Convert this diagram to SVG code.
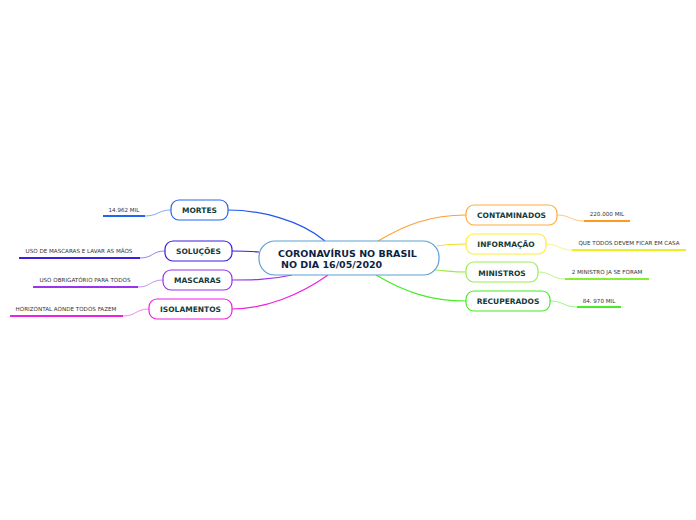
<svg xmlns="http://www.w3.org/2000/svg" width="696" height="520" viewBox="0 0 696 520">
<style>
.node{fill:#fff;stroke-width:1.2}
.nt{font-family:"DejaVu Sans",Verdana,sans-serif;font-weight:bold;font-size:7.5px;fill:#123a3a;text-anchor:middle}
.ct{font-family:"DejaVu Sans",Verdana,sans-serif;font-weight:bold;font-size:9.5px;fill:#0e1f44}
.lt{font-family:"DejaVu Sans",Verdana,sans-serif;font-size:5.6px;fill:#333;text-anchor:middle}
.c{fill:none;stroke-width:1.2}
.u{fill:none;stroke-width:1.8}
.f{fill:none;stroke-width:1;opacity:0.55}
</style>
<rect width="696" height="520" fill="#fff"/>
<g id="connectors">
<path class="c" stroke="#2255ee" d="M325,241 C300,220 260,210 228,210"/>
<path class="c" stroke="#3a1fe0" d="M259,252 C248,251 240,251 232,251"/>
<path class="c" stroke="#9933ee" d="M292,275 C270,280 250,280 232,280"/>
<path class="c" stroke="#ee22dd" d="M328,275 C300,295 265,309 232,309"/>
<path class="c" stroke="#ffa033" d="M378,241 C405,225 430,215 466,215"/>
<path class="c" stroke="#eedd22" d="M437,246 C448,244 455,244 466,244"/>
<path class="c" stroke="#99ee44" d="M435,270 C448,271 455,272 466,272"/>
<path class="c" stroke="#44ee22" d="M376,275 C405,292 430,301 466,301"/>
<path class="u" stroke="#2266ee" d="M103,216 H145"/>
<path class="f" stroke="#2266ee" d="M145,216 C158,216 158,210 171,210"/>
<path class="u" stroke="#3a1fe0" d="M19,258 H140"/>
<path class="f" stroke="#3a1fe0" d="M140,258 C153,258 152,251 165,251"/>
<path class="u" stroke="#9933ee" d="M33,287 H138"/>
<path class="f" stroke="#9933ee" d="M138,287 C151,287 150,280 163,280"/>
<path class="u" stroke="#ee22dd" d="M10,316 H123"/>
<path class="f" stroke="#ee22dd" d="M123,316 C136,316 136,309 149,309"/>
<path class="u" stroke="#ff9922" d="M584,221 H630"/>
<path class="f" stroke="#ff9922" d="M557,215 C570,215 571,221 584,221"/>
<path class="u" stroke="#eeee22" d="M572,250 H686"/>
<path class="f" stroke="#eeee22" d="M546,244 C559,244 559,250 572,250"/>
<path class="u" stroke="#88ee33" d="M565,279 H649"/>
<path class="f" stroke="#88ee33" d="M538,272 C551,272 552,279 565,279"/>
<path class="u" stroke="#44ee22" d="M577,307 H621"/>
<path class="f" stroke="#44ee22" d="M550,301 C563,301 564,307 577,307"/>
</g>
<g id="central">
<rect class="node" x="259" y="241" width="180" height="34" rx="16" stroke="#5a9fd6"/>
<text class="ct" x="278" y="257">CORONAVÍRUS NO BRASIL</text>
<text class="ct" x="281" y="268"> NO DIA 16/05/2020</text>
</g>
<g id="mortes">
<rect class="node" x="171" y="200" width="57" height="20" rx="8" stroke="#2266ee"/>
<text class="nt" x="199.5" y="213">MORTES</text>
</g>
<g id="mortes-leaf"><text class="lt" x="124" y="212">14.962 MIL</text></g>
<g id="solucoes">
<rect class="node" x="165" y="241" width="67" height="20" rx="8" stroke="#3a1fe0"/>
<text class="nt" x="198.5" y="254">SOLUÇÕES</text>
</g>
<g id="solucoes-leaf"><text class="lt" x="79" y="253">USO DE MASCARAS E LAVAR AS MÃOS</text></g>
<g id="mascaras">
<rect class="node" x="163" y="270" width="69" height="20" rx="8" stroke="#9933ee"/>
<text class="nt" x="197.5" y="283">MASCARAS</text>
</g>
<g id="mascaras-leaf"><text class="lt" x="85" y="282">USO OBRIGATÓRIO PARA TODOS</text></g>
<g id="isolamentos">
<rect class="node" x="149" y="299" width="83" height="20" rx="8" stroke="#ee22dd"/>
<text class="nt" x="190.5" y="312">ISOLAMENTOS</text>
</g>
<g id="isolamentos-leaf"><text class="lt" x="66" y="311">HORIZONTAL AONDE TODOS FAZEM</text></g>
<g id="contaminados">
<rect class="node" x="466" y="205" width="91" height="20" rx="8" stroke="#ffaa44"/>
<text class="nt" x="511.5" y="218">CONTAMINADOS</text>
</g>
<g id="contaminados-leaf"><text class="lt" x="607" y="216">220.000 MIL</text></g>
<g id="informacao">
<rect class="node" x="466" y="234" width="80" height="20" rx="8" stroke="#ffee33"/>
<text class="nt" x="506" y="247">INFORMAÇÃO</text>
</g>
<g id="informacao-leaf"><text class="lt" x="629" y="245">QUE TODOS DEVEM FICAR EM CASA</text></g>
<g id="ministros">
<rect class="node" x="466" y="262" width="72" height="20" rx="8" stroke="#99ee55"/>
<text class="nt" x="502" y="275.5">MINISTROS</text>
</g>
<g id="ministros-leaf"><text class="lt" x="607" y="274">2 MINISTRO JA SE FORAM</text></g>
<g id="recuperados">
<rect class="node" x="466" y="291" width="84" height="20" rx="8" stroke="#44ee22"/>
<text class="nt" x="508" y="304">RECUPERADOS</text>
</g>
<g id="recuperados-leaf"><text class="lt" x="599" y="303">84. 970 MIL</text></g>
</svg>
